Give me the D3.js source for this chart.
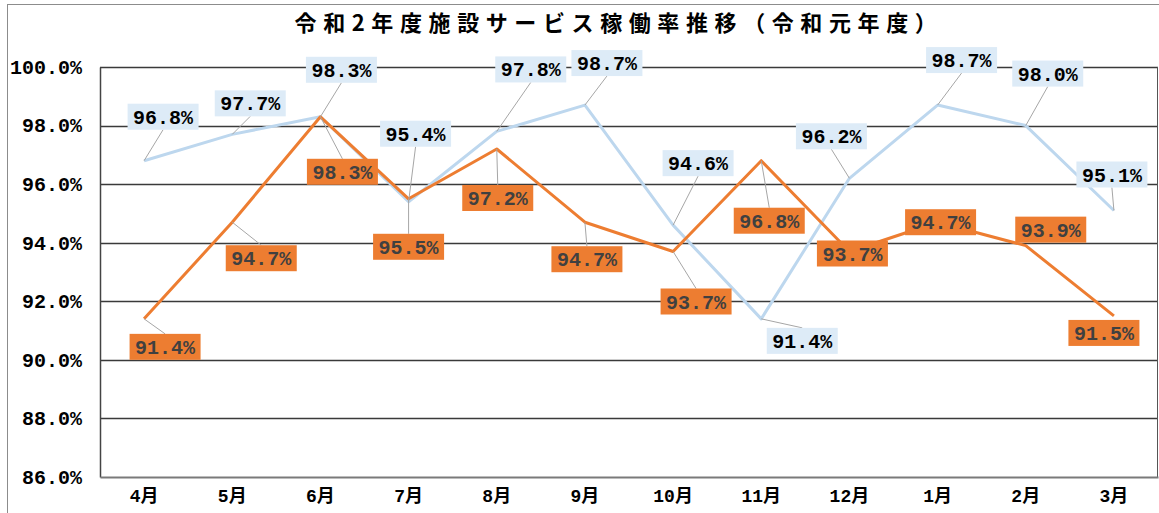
<!DOCTYPE html>
<html>
<head>
<meta charset="utf-8" />
<title>令和2年度施設サービス稼働率推移</title>
<script src="https://d3js.org/d3.v7.min.js"></script>
<style>
  body { margin: 0; background: #fff; }
  svg { display: block; }
</style>
</head>
<body>
<div id="chart"></div>
<script>
// months (April start fiscal year)
var months = ["4月", "5月", "6月", "7月", "8月", "9月", "10月", "11月", "12月", "1月", "2月", "3月"];
// 令和元年度 (light blue)
var prevYear = [96.8, 97.7, 98.3, 95.4, 97.8, 98.7, 94.6, 91.4, 96.2, 98.7, 98.0, 95.1];
// 令和2年度 (orange)
var thisYear = [91.4, 94.7, 98.3, 95.5, 97.2, 94.7, 93.7, 96.8, 93.7, 94.7, 93.9, 91.5];
var yTicks = [86, 88, 90, 92, 94, 96, 98, 100];
// hand placed label offsets from each point (px)
var prevLabelOff = [[19,-44],[18,-31],[21,-47],[7,-68],[34,-62],[22,-42],[25,-62],[41,22],[-18,-42],[24,-45],[22,-52],[-2,-36]];
var thisLabelOff = [[21,28],[29,36],[22,55],[0,48],[1,49],[2,37],[23,50],[8,60],[3,2],[3,0],[25,-16],[-10,17]];

var W = 1159, H = 513;
var margin = {left: 100, right: 1, top: 67, bottom: 36};

var svg = d3.select("#chart").append("svg")
  .attr("width", W).attr("height", H);

// outer frame
svg.append("rect").attr("x", 7.5).attr("y", 4.5)
  .attr("width", W + 10).attr("height", H + 10)
  .attr("fill", "none").attr("stroke", "#8c8c8c").attr("stroke-width", 1);

var x = d3.scaleBand().domain(months).range([margin.left, W - margin.right]);
var y = d3.scaleLinear().domain([86, 100]).range([H - margin.bottom, margin.top]);
var cx = function(i) { return x(months[i]) + x.bandwidth() / 2; };

svg.append("text")
  .attr("x", 619).attr("y", 31)
  .attr("text-anchor", "middle")
  .style("font-family", "'Noto Sans CJK JP', sans-serif")
  .style("font-size", "22px").style("font-weight", "bold")
  .style("letter-spacing", "6.6px")
  .text("令和2年度施設サービス稼働率推移（令和元年度）");

// grid
svg.append("g").selectAll("line").data(yTicks.filter(function(d){ return d > 86; }))
  .join("line")
  .attr("x1", margin.left).attr("x2", W - margin.right)
  .attr("y1", function(d){ return Math.round(y(d)) + 0.5; })
  .attr("y2", function(d){ return Math.round(y(d)) + 0.5; })
  .attr("stroke", "#3a3a3a").attr("stroke-width", 1.3);

// right edge of plot
svg.append("line")
  .attr("x1", W - 1.5).attr("x2", W - 1.5)
  .attr("y1", margin.top).attr("y2", H - margin.bottom)
  .attr("stroke", "#555").attr("stroke-width", 1);

// y axis
var yAxis = svg.append("g").attr("transform", "translate(" + margin.left + ",0)")
  .call(d3.axisLeft(y).tickValues(yTicks).tickSize(0).tickPadding(18)
    .tickFormat(function(d){ return d.toFixed(1) + "%"; }));
yAxis.select(".domain").attr("stroke", "#444").attr("stroke-width", 1.5);
yAxis.selectAll("text")
  .style("font-family", "'Liberation Mono', monospace")
  .style("font-size", "20px").style("font-weight", "bold").attr("fill", "#000");

// x axis
var xAxis = svg.append("g").attr("transform", "translate(0," + (H - margin.bottom) + ")")
  .call(d3.axisBottom(x).tickSize(0).tickPadding(12));
xAxis.select(".domain").attr("stroke", "#7a7a7a").attr("stroke-width", 2);
xAxis.selectAll("text")
  .style("font-family", "'Liberation Mono', 'Noto Sans CJK JP', monospace")
  .style("font-size", "18px").style("font-weight", "bold").attr("fill", "#000");

var line = d3.line().x(function(d, i){ return cx(i); }).y(function(d){ return y(d); });

var series = [
  {vals: prevYear, off: prevLabelOff, color: "#bdd7ee", box: "#ddebf7", txt: "#000"},
  {vals: thisYear, off: thisLabelOff, color: "#ed7d31", box: "#ed7d31", txt: "#404040"}
];

series.forEach(function(s) {
  svg.append("path").datum(s.vals)
    .attr("d", line).attr("fill", "none")
    .attr("stroke", s.color).attr("stroke-width", 3)
    .attr("stroke-linejoin", "round");
});

var bw = 71, bh = 26;
series.forEach(function(s) {
  s.vals.forEach(function(v, i) {
    var px = cx(i), py = y(v);
    var lx = px + s.off[i][0], ly = py + s.off[i][1];
    var top = ly - bh / 2, bot = ly + bh / 2;
    if (py < top - 4 || py > bot + 4) {
      svg.append("line")
        .attr("x1", px).attr("y1", py)
        .attr("x2", lx).attr("y2", py < top ? top : bot)
        .attr("stroke", "#a6a6a6").attr("stroke-width", 1);
    }
  });
});

series.forEach(function(s) {
  var g = svg.append("g");
  s.vals.forEach(function(v, i) {
    var lx = cx(i) + s.off[i][0], ly = y(v) + s.off[i][1];
    g.append("rect").attr("x", lx - bw / 2).attr("y", ly - bh / 2)
      .attr("width", bw).attr("height", bh).attr("fill", s.box);
    g.append("text").attr("x", lx).attr("y", ly + 7)
      .attr("text-anchor", "middle")
      .style("font-family", "'Liberation Mono', monospace")
      .style("font-size", "20px").style("font-weight", "bold")
      .attr("fill", s.txt)
      .text(v.toFixed(1) + "%");
  });
});
</script>
</body>
</html>
